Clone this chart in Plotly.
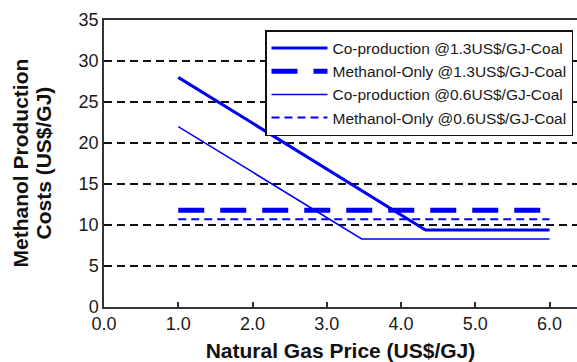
import plotly.graph_objects as go

# Natural gas price (US$/GJ) and methanol production cost (US$/GJ)
gas_co_13 = [1.0, 4.33, 6.0]
cost_co_13 = [28.0, 9.4, 9.4]

gas_mo_13 = [1.0, 6.0]
cost_mo_13 = [11.8, 11.8]

gas_co_06 = [1.0, 3.47, 6.0]
cost_co_06 = [22.0, 8.3, 8.3]

gas_mo_06 = [1.0, 6.0]
cost_mo_06 = [10.7, 10.7]

series_names = [
    "Co-production @1.3US$/GJ-Coal",
    "Methanol-Only @1.3US$/GJ-Coal",
    "Co-production @0.6US$/GJ-Coal",
    "Methanol-Only @0.6US$/GJ-Coal",
]

x_ticks = [0, 1, 2, 3, 4, 5, 6]
y_ticks = [0, 5, 10, 15, 20, 25, 30, 35]

BLUE = "#0000f0"
FONT = "Arial, Liberation Sans, sans-serif"

fig = go.Figure()
fig.add_trace(go.Scatter(x=gas_co_13, y=cost_co_13, mode="lines", name=series_names[0],
                         line=dict(color=BLUE, width=3)))
fig.add_trace(go.Scatter(x=gas_mo_13, y=cost_mo_13, mode="lines", name=series_names[1],
                         line=dict(color=BLUE, width=5, dash="26px,16px")))
fig.add_trace(go.Scatter(x=gas_co_06, y=cost_co_06, mode="lines", name=series_names[2],
                         line=dict(color=BLUE, width=1.5)))
fig.add_trace(go.Scatter(x=gas_mo_06, y=cost_mo_06, mode="lines", name=series_names[3],
                         line=dict(color=BLUE, width=2, dash="8px,5px")))

W, H = 577, 362
ML, MR, MT, MB = 104, 0, 20, 55
plot_w = W - ML - MR

def px_to_paper_x(px):
    return (px - ML) / plot_w

fig.update_layout(
    width=W, height=H,
    margin=dict(l=ML, r=MR, t=MT, b=MB),
    paper_bgcolor="white", plot_bgcolor="white",
    font=dict(family=FONT, color="#1a1a1a"),
    showlegend=True,
    legend=dict(
        x=px_to_paper_x(265), y=(307 - 30) / 287, xanchor="left", yanchor="top",
        bgcolor="white", bordercolor="#111", borderwidth=1.5,
        font=dict(size=15.5, family=FONT, color="#1a1a1a"),
        tracegroupgap=0, itemwidth=56,
    ),
    xaxis=dict(
        range=[0, 6.37], tickvals=x_ticks, tickformat=".1f",
        ticks="inside", ticklen=5, tickwidth=1.5, tickcolor="#333",
        showline=True, linecolor="#333", linewidth=1.5, mirror=True,
        showgrid=False, zeroline=False,
        tickfont=dict(size=18, family=FONT, color="#1a1a1a"),
        title=dict(text="Natural Gas Price (US$/GJ)", standoff=14,
                   font=dict(size=21, family=FONT, weight="bold", color="#111")),
    ),
    yaxis=dict(
        range=[0, 35], tickvals=y_ticks, ticks="",
        showline=True, linecolor="#333", linewidth=1.5, mirror=False,
        showgrid=True, gridcolor="#111", gridwidth=1.5, griddash="8px,5px",
        zeroline=False,
        tickfont=dict(size=18, family=FONT, color="#1a1a1a"),
    ),
    annotations=[
        dict(text="Methanol Production", xref="paper", yref="paper",
             x=px_to_paper_x(20), y=0.5, xanchor="center", yanchor="middle",
             textangle=-90, showarrow=False,
             font=dict(size=21, family=FONT, weight="bold", color="#111")),
        dict(text="Costs (US$/GJ)", xref="paper", yref="paper",
             x=px_to_paper_x(43), y=0.5, xanchor="center", yanchor="middle",
             textangle=-90, showarrow=False,
             font=dict(size=21, family=FONT, weight="bold", color="#111")),
    ],
)

fig.write_html("out.html")
